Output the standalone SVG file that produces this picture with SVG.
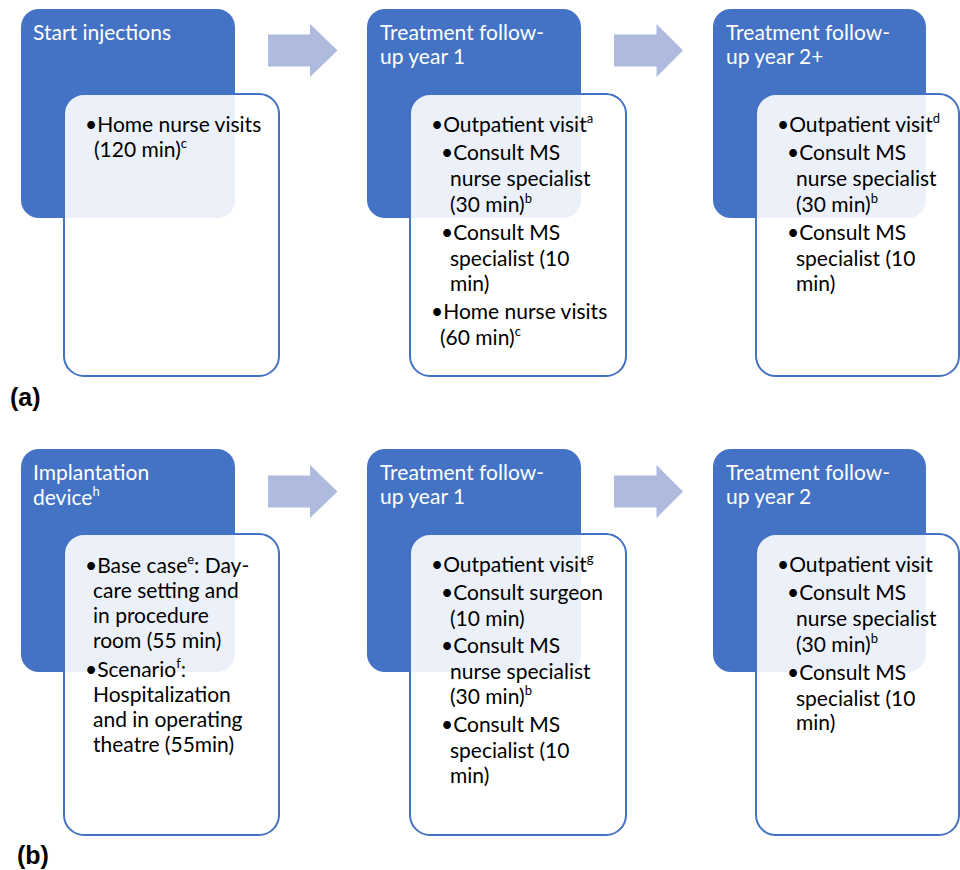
<svg xmlns="http://www.w3.org/2000/svg" width="960" height="870" viewBox="0 0 960 870">
<style>
.dark{fill:#4472C4;}
.box{fill:#FFFFFF;fill-opacity:0.9;stroke:#4472C4;stroke-width:2;}
.title{font-family:Lato,"Liberation Sans",sans-serif;font-size:21px;fill:#FFFFFF;}
.body{font-family:Lato,"Liberation Sans",sans-serif;font-size:21px;fill:#000000;}
.sup{font-size:13px;}
.arrow{fill:#AEBBDF;}
.lab{font-family:"Liberation Sans",Arial,sans-serif;font-size:25px;font-weight:bold;fill:#000000;}
</style>
<rect width="960" height="870" fill="#FFFFFF"/>
<g id="connectors">
<polygon class="arrow" points="268,34.5 310,34.5 310,24 337.5,50.5 310,77 310,66.5 268,66.5"/>
<polygon class="arrow" points="614,34.5 656.5,34.5 656.5,24 683,50.5 656.5,77 656.5,66.5 614,66.5"/>
<polygon class="arrow" points="268,475.5 310,475.5 310,465 337.5,491.5 310,518 310,507.5 268,507.5"/>
<polygon class="arrow" points="614,475.5 656.5,475.5 656.5,465 683,491.5 656.5,518 656.5,507.5 614,507.5"/>
</g>
<g id="node-a1">
<rect class="dark" x="21" y="9" width="214" height="209" rx="18"/>
<text class="title" x="33" y="40">Start injections</text>
<rect class="box" x="64" y="94" width="215" height="282" rx="20"/>
<text class="body" x="85" y="132">•Home nurse visits<tspan x="94" y="157">(120 min)</tspan><tspan class="sup" dy="-9">c</tspan></text>
</g>
<g id="node-a2">
<rect class="dark" x="367" y="9" width="214" height="209" rx="18"/>
<text class="title" x="380" y="40">Treatment follow-<tspan x="380" y="64">up year 1</tspan></text>
<rect class="box" x="410" y="94" width="216" height="282" rx="20"/>
<text class="body" x="431" y="132">•Outpatient visit<tspan class="sup" dy="-9">a</tspan></text>
<text class="body" x="441" y="160">•Consult MS<tspan x="450" y="186">nurse specialist</tspan><tspan x="450" y="212">(30 min)</tspan><tspan class="sup" dy="-9">b</tspan></text>
<text class="body" x="441" y="240">•Consult MS<tspan x="450" y="266">specialist (10</tspan><tspan x="450" y="291">min)</tspan></text>
<text class="body" x="431" y="319">•Home nurse visits<tspan x="440" y="345">(60 min)</tspan><tspan class="sup" dy="-9">c</tspan></text>
</g>
<g id="node-a3">
<rect class="dark" x="713" y="9" width="213" height="209" rx="18"/>
<text class="title" x="726" y="40">Treatment follow-<tspan x="726" y="64">up year 2+</tspan></text>
<rect class="box" x="756" y="94" width="203" height="282" rx="20"/>
<text class="body" x="777" y="132">•Outpatient visit<tspan class="sup" dy="-9">d</tspan></text>
<text class="body" x="787" y="160">•Consult MS<tspan x="796" y="186">nurse specialist</tspan><tspan x="796" y="212">(30 min)</tspan><tspan class="sup" dy="-9">b</tspan></text>
<text class="body" x="787" y="240">•Consult MS<tspan x="796" y="266">specialist (10</tspan><tspan x="796" y="291">min)</tspan></text>
</g>
<g id="node-b1">
<rect class="dark" x="21" y="449" width="214" height="223" rx="18"/>
<text class="title" x="33" y="480">Implantation<tspan x="33" y="505">device</tspan><tspan class="sup" dy="-9">h</tspan></text>
<rect class="box" x="64" y="534" width="215" height="301" rx="20"/>
<text class="body" x="85" y="573">•Base case<tspan class="sup" dy="-9">e</tspan><tspan dy="9">: Day-</tspan><tspan x="93" y="598">care setting and</tspan><tspan x="93" y="623">in procedure</tspan><tspan x="93" y="648">room (55 min)</tspan></text>
<text class="body" x="85" y="677">•Scenario<tspan class="sup" dy="-9">f</tspan><tspan dy="9">:</tspan><tspan x="93" y="702">Hospitalization</tspan><tspan x="93" y="727">and in operating</tspan><tspan x="93" y="752">theatre (55min)</tspan></text>
</g>
<g id="node-b2">
<rect class="dark" x="367" y="449" width="214" height="223" rx="18"/>
<text class="title" x="380" y="480">Treatment follow-<tspan x="380" y="504">up year 1</tspan></text>
<rect class="box" x="410" y="534" width="216" height="301" rx="20"/>
<text class="body" x="431" y="572">•Outpatient visit<tspan class="sup" dy="-9">g</tspan></text>
<text class="body" x="441" y="600">•Consult surgeon<tspan x="450" y="625.5">(10 min)</tspan></text>
<text class="body" x="441" y="653">•Consult MS<tspan x="450" y="678.5">nurse specialist</tspan><tspan x="450" y="704">(30 min)</tspan><tspan class="sup" dy="-9">b</tspan></text>
<text class="body" x="441" y="732">•Consult MS<tspan x="450" y="757.5">specialist (10</tspan><tspan x="450" y="783">min)</tspan></text>
</g>
<g id="node-b3">
<rect class="dark" x="713" y="449" width="213" height="223" rx="18"/>
<text class="title" x="726" y="480">Treatment follow-<tspan x="726" y="504">up year 2</tspan></text>
<rect class="box" x="756" y="534" width="203" height="301" rx="20"/>
<text class="body" x="777" y="572">•Outpatient visit</text>
<text class="body" x="787" y="600">•Consult MS<tspan x="796" y="626">nurse specialist</tspan><tspan x="796" y="652">(30 min)</tspan><tspan class="sup" dy="-9">b</tspan></text>
<text class="body" x="787" y="680">•Consult MS<tspan x="796" y="705.5">specialist (10</tspan><tspan x="796" y="730">min)</tspan></text>
</g>
<text class="lab" x="10" y="406">(a)</text>
<text class="lab" x="17" y="864">(b)</text>
</svg>
